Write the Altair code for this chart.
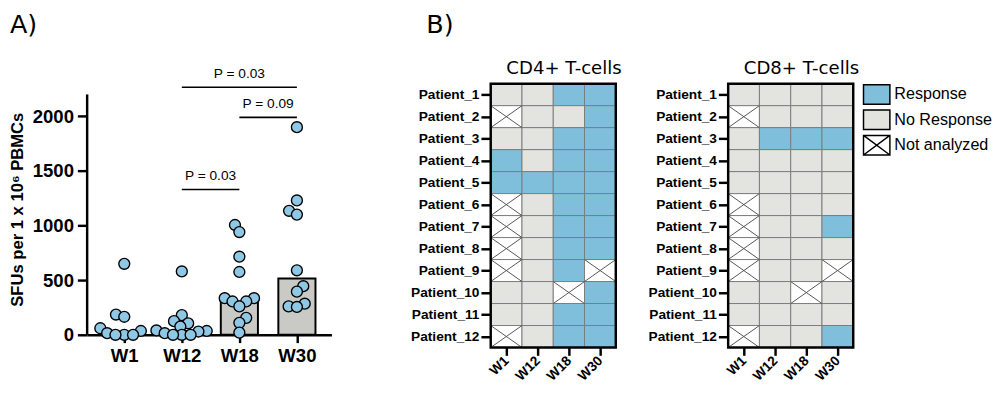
import json
import altair as alt
import pandas as pd

# ---------------- data ----------------
weeks = ["W1", "W12", "W18", "W30"]
sfu_w1 = [650, 185, 165, 60, 35, 15, 0, 0, 0]
sfu_w12 = [580, 180, 125, 105, 75, 40, 35, 30, 15, 0, 0, 0]
sfu_w18 = [1005, 940, 715, 575, 335, 335, 305, 305, 260, 155, 110, 20]
sfu_w30 = [1900, 1230, 1135, 1100, 590, 445, 395, 285, 260, 255]
bar_heights = [15, 35, 305, 515]

comp_from = ["W12", "W18", "W12"]
comp_to = ["W30", "W30", "W18"]
comp_p = ["P = 0.03", "P = 0.09", "P = 0.03"]

patients = ["Patient_1", "Patient_2", "Patient_3", "Patient_4", "Patient_5", "Patient_6",
            "Patient_7", "Patient_8", "Patient_9", "Patient_10", "Patient_11", "Patient_12"]
statuses = ["Response", "No Response", "Not analyzed"]
# one letter per week (W1, W12, W18, W30): R = Response, N = No Response, X = Not analyzed
cd4_codes = ["NNRR", "XNNR", "NNRR", "RNRR", "RRRR", "XNRR",
             "XNRR", "XNRR", "XNRX", "NNXR", "NNRR", "XNRR"]
cd8_codes = ["NNNN", "XNNN", "NRRR", "NNNN", "NNNN", "XNNN",
             "XNNR", "XNNN", "XNNX", "NNXN", "NNNN", "XNNR"]
panel_titles = ["CD4+ T-cells", "CD8+ T-cells"]

# ---------------- layout / style ----------------
W_SC, H_SC = 250, 257            # scatter plot area (same top as heatmaps)
PX_PER_UNIT = 246 / 2200         # vertical pixels per SFU
Y_AXIS_TOP = 2200                # where the drawn y-axis line ends
Y_DOM_TOP = H_SC / PX_PER_UNIT
X_MIN, X_MAX = -0.645, 3.6
bracket_levels = [2265, 1990, 1330]
R_PT = 6.3
BLUE = "#80bfdc"
GREY = "#e3e3df"
PT_FILL = "#8ec8e4"
BAR_FILL = "#c9c9c5"
AX_FONT = "Liberation Sans"
GEO_FONT = "DejaVu Sans"
HW, HH = 128, 270

px_x = W_SC / (X_MAX - X_MIN)


def swarm(vals):
    order = sorted(range(len(vals)), key=lambda k: vals[k])
    placed, offs = [], [0.0] * len(vals)
    flip = 1
    for k in order:
        yy = vals[k] * PX_PER_UNIT
        best, d = None, 0.0
        while best is None:
            for s in ([flip, -flip] if d > 0 else [1]):
                cand = s * d
                if all((cand - a) ** 2 + (yy - b) ** 2 >= (1.35 * R_PT) ** 2 for a, b in placed):
                    best = cand
                    break
            d += 0.5
        placed.append((best, yy))
        offs[k] = best / px_x
        flip = -flip
    return offs


groups = [sfu_w1, sfu_w12, sfu_w18, sfu_w30]
rows = []
for i, (w, vals) in enumerate(zip(weeks, groups)):
    for v, o in zip(vals, swarm(vals)):
        rows.append({"week": w, "value": v, "xpos": i + o})
pts = pd.DataFrame(rows)
bars_df = pd.DataFrame({"week": weeks, "xi": list(range(len(weeks))), "h": bar_heights})
br_df = pd.DataFrame({
    "x1": [weeks.index(a) for a in comp_from],
    "x2": [weeks.index(b) for b in comp_to],
    "yb": bracket_levels,
    "p": comp_p,
})
br_df["xm"] = (br_df["x1"] + br_df["x2"]) / 2

x_sc = alt.Scale(domain=[X_MIN, X_MAX], nice=False, zero=False, padding=0)
y_sc = alt.Scale(domain=[0, Y_DOM_TOP], nice=False, padding=0)
x_axis = alt.Axis(values=list(range(len(weeks))), labelExpr=f"{json.dumps(weeks)}[datum.value]",
                  title=None, grid=False, domainColor="black", domainWidth=2.5,
                  tickColor="black", tickWidth=2.5, tickSize=8, labelFont=AX_FONT,
                  labelFontSize=19, labelFontWeight="bold", labelColor="black", labelPadding=4)
y_axis = alt.Axis(values=[0, 500, 1000, 1500, 2000], format="d", title="SFUs per 1 x 10⁶ PBMCs",
                  titleFont=AX_FONT, titleFontSize=17, titleFontWeight="bold", titleColor="black",
                  titlePadding=6, grid=False, domain=False, labelOverlap=False, tickCount=10,
                  tickColor="black", tickWidth=2.5, tickSize=10, labelFont=AX_FONT,
                  labelFontSize=19, labelFontWeight="bold", labelColor="black", labelPadding=4)

bars = alt.Chart(bars_df).mark_bar(size=38, orient="vertical", color=BAR_FILL, stroke="black",
                                   strokeWidth=2).encode(
    x=alt.X("xi:Q", scale=x_sc, axis=x_axis),
    y=alt.Y("h:Q", scale=y_sc, axis=y_axis),
)
y_line = alt.Chart(pd.DataFrame({"x": [X_MIN], "y0": [0], "y1": [Y_AXIS_TOP]})).mark_rule(
    color="black", strokeWidth=2.5).encode(
    x=alt.X("x:Q", scale=x_sc), y=alt.Y("y0:Q", scale=y_sc), y2="y1:Q")
points = alt.Chart(pts).mark_circle(size=125, color=PT_FILL, opacity=1, stroke="black",
                                    strokeWidth=1.4).encode(
    x=alt.X("xpos:Q", scale=x_sc), y=alt.Y("value:Q", scale=y_sc))
br_lines = alt.Chart(br_df).mark_rule(color="black", strokeWidth=1.6).encode(
    x=alt.X("x1:Q", scale=x_sc), x2="x2:Q", y=alt.Y("yb:Q", scale=y_sc))
br_text = alt.Chart(br_df).mark_text(dy=-14, baseline="middle", font=AX_FONT, fontSize=14,
                                     color="black").encode(
    x=alt.X("xm:Q", scale=x_sc), y=alt.Y("yb:Q", scale=y_sc), text="p:N")
label_a = alt.Chart(pd.DataFrame({"t": ["A)"]})).mark_text(
    align="left", baseline="alphabetic", font=GEO_FONT, fontSize=26, color="black").encode(
    x=alt.value(-79), y=alt.value(-52), text="t:N")

scatter = alt.layer(bars, y_line, points, br_lines, br_text, label_a).properties(
    width=W_SC, height=H_SC)

# ---------------- heatmaps ----------------
code_map = {"R": statuses[0], "N": statuses[1], "X": statuses[2]}


def heat_df(codes):
    out = []
    for j, (p, c) in enumerate(zip(patients, codes)):
        for i, (w, ch) in enumerate(zip(weeks, c)):
            out.append({"patient": p, "week": w, "status": code_map[ch],
                        "cell_status": code_map[ch],
                        "x0": i, "x1": i + 1, "y0": j, "y1": j + 1,
                        "xc": i + 0.5, "yc": j + 0.5})
    return pd.DataFrame(out)


hx = alt.Scale(domain=[0, len(weeks)], nice=False, zero=False, padding=0)
hy = alt.Scale(domain=[0, len(patients)], nice=False, zero=False, reverse=True, padding=0)
hx_axis = alt.Axis(values=[i + 0.5 for i in range(len(weeks))],
                   labelExpr=f"{json.dumps(weeks)}[floor(datum.value)]",
                   labelAngle=315, labelAlign="right", labelBaseline="middle",
                   domain=False, grid=False, tickSize=8, tickWidth=2.5, tickColor="black",
                   labelFont=AX_FONT, labelFontSize=14, labelFontWeight="bold",
                   labelColor="black", labelPadding=3, labelOverlap=False,
                   tickCount=len(weeks), title=None)
hy_axis = alt.Axis(values=[j + 0.5 for j in range(len(patients))],
                   labelExpr=f"{json.dumps(patients)}[floor(datum.value)]",
                   domain=False, grid=False, tickSize=10, tickWidth=2.5, tickColor="black",
                   labelFont=AX_FONT, labelFontSize=14, labelFontWeight="bold",
                   labelColor="black", labelPadding=2, labelOverlap=False,
                   tickCount=len(patients), title=None)
color_scale = alt.Scale(domain=statuses, range=[BLUE, GREY, "white"])

sq = "M-1.35,-1H1.35V1H-1.35Z"
sqx = sq + "M-1.35,-1L1.35,1M-1.35,1L1.35,-1"


def heatmap(codes, title, with_b=False, with_legend=False):
    df = heat_df(codes)
    base = alt.Chart(df)
    layers = []
    if with_legend:
        leg = alt.Legend(title=None, orient="right", offset=13, padding=0, symbolSize=400,
                         symbolStrokeColor="black", symbolStrokeWidth=1.5, symbolOpacity=1,
                         labelFont=AX_FONT, labelFontSize=16.5, labelColor="black",
                         labelOffset=7, rowPadding=0, labelLimit=200)
        legend_layer = base.mark_point(filled=True, size=20, opacity=1,
                                       strokeWidth=1.5).encode(
            x=alt.X("xc:Q", scale=hx, axis=hx_axis), y=alt.Y("yc:Q", scale=hy, axis=hy_axis),
            fill=alt.Fill("status:N", scale=alt.Scale(domain=statuses,
                                                      range=[BLUE, GREY, "white"]), legend=leg),
            stroke=alt.Stroke("status:N", scale=alt.Scale(domain=statuses,
                                                          range=["black"] * 3), legend=leg),
            shape=alt.Shape("status:N", scale=alt.Scale(domain=statuses, range=[sq, sq, sqx]),
                            legend=leg))
        layers.append(legend_layer)
    cells = base.mark_rect(stroke="#7c7c7c", strokeWidth=1, opacity=1).encode(
        x=alt.X("x0:Q", scale=hx, axis=hx_axis), x2="x1:Q",
        y=alt.Y("y0:Q", scale=hy, axis=hy_axis), y2="y1:Q",
        color=alt.Color("cell_status:N", scale=color_scale, legend=None))
    na = base.transform_filter(alt.datum.status == statuses[2])
    cross1 = na.mark_rule(color="#555555", strokeWidth=1).encode(
        x="x0:Q", x2="x1:Q", y="y0:Q", y2="y1:Q")
    cross2 = na.mark_rule(color="#555555", strokeWidth=1).encode(
        x="x0:Q", x2="x1:Q", y="y1:Q", y2="y0:Q")
    frame = alt.Chart(pd.DataFrame({"x0": [0], "x1": [len(weeks)], "y0": [0],
                                    "y1": [len(patients)]})).mark_rect(
        fill="white", fillOpacity=0, stroke="black", strokeWidth=2.5).encode(
        x="x0:Q", x2="x1:Q", y="y0:Q", y2="y1:Q")
    ttl = alt.Chart(pd.DataFrame({"t": [title]})).mark_text(
        align="center", baseline="alphabetic", font=GEO_FONT, fontSize=18.5,
        color="black").encode(x=alt.value(HW / 2 + 11), y=alt.value(-10), text="t:N")
    layers += [cells, cross1, cross2, frame, ttl]
    if with_b:
        lab = alt.Chart(pd.DataFrame({"t": ["B)"]})).mark_text(
            align="left", baseline="alphabetic", font=GEO_FONT, fontSize=26,
            color="black").encode(x=alt.value(-66), y=alt.value(-52), text="t:N")
        layers.append(lab)
    return alt.layer(*layers).properties(width=HW, height=HH)


cd4 = heatmap(cd4_codes, panel_titles[0], with_b=True)
cd8 = heatmap(cd8_codes, panel_titles[1], with_legend=True)

indep = dict(color="independent", fill="independent", shape="independent",
             stroke="independent")
right = alt.hconcat(cd4, cd8, spacing=25).resolve_scale(**indep).resolve_legend(
    fill="independent", shape="independent", stroke="independent")
chart = (alt.hconcat(scatter, right, spacing=80)
         .resolve_scale(**indep)
         .resolve_legend(fill="independent", shape="independent", stroke="independent")
         .properties(padding=0)
         .configure_view(stroke=None))

chart.save("out.html", embed_options={"renderer": "svg", "actions": False})
